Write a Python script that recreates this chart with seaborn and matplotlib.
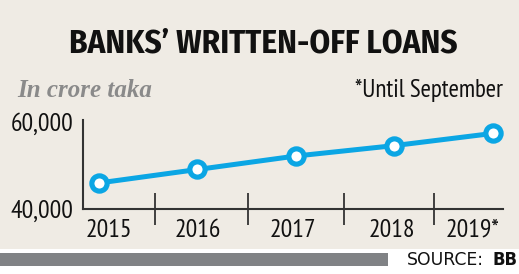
import matplotlib
matplotlib.use("Agg")
import matplotlib.pyplot as plt
from matplotlib.patches import Rectangle
from matplotlib.ticker import FixedLocator, FuncFormatter
import numpy as np
import pandas as pd
import seaborn as sns

# ---- data ----
years = ["2015", "2016", "2017", "2018", "2019*"]
loans = [46000, 49100, 52200, 54600, 57400]
y_ticks = [40000, 60000]

title = "BANKS\u2019 WRITTEN-OFF LOANS"
unit_note = "In crore taka"
foot_note = "*Until September"

# ---- style ----
BG = "#efebe4"
LINE = "#0ba6e4"
AXIS = "#333333"
NARROW = "PT Sans Narrow"
TITLE_FONT = "Fira Sans Condensed"

sns.set_theme(style="white")
plt.rcParams["font.family"] = [NARROW, "DejaVu Sans"]

W, H = 519, 274
fig = plt.figure(figsize=(W / 100, H / 100), dpi=100)
fig.patch.set_facecolor("white")

# beige panel and grey footer bar
fig.patches.append(Rectangle((0, 25 / H), 1, 1 - 25 / H, transform=fig.transFigure,
                             facecolor=BG, edgecolor="none", zorder=-10))
fig.patches.append(Rectangle((0, 8 / H), 388 / W, 13 / H, transform=fig.transFigure,
                             facecolor="#808285", edgecolor="none", zorder=-10))

ax = fig.add_axes([83 / W, 65 / H, 420 / W, 89 / H])
ax.set_facecolor("none")

df = pd.DataFrame({"pos": np.arange(len(years)), "value": loans})
sns.lineplot(data=df, x="pos", y="value", ax=ax, color=LINE, linewidth=3.6,
             marker="o", markersize=11, markerfacecolor="white",
             markeredgecolor=LINE, markeredgewidth=3.7, zorder=5, clip_on=False)

ax.set_xlim(-0.163, 4.106)
ax.set_ylim(40000, 60500)

# y axis
ax.set_yticks(y_ticks)
ax.yaxis.set_major_formatter(FuncFormatter(lambda v, p: f"{int(v):,}"))
ax.tick_params(axis="y", length=0, pad=7, labelsize=18.5, colors="#111111")

# x axis: labels between separators
label_pos = [0.10, 1.0, 1.97, 2.98, 3.80]
sep_pos = [0.57, 1.51, 2.49, 3.40]
ax.xaxis.set_major_locator(FixedLocator(label_pos))
ax.set_xticklabels(years)
ax.xaxis.set_minor_locator(FixedLocator(sep_pos))
ax.tick_params(axis="x", which="major", length=0, pad=7, labelsize=18.5, colors="#111111")
ax.tick_params(axis="x", which="minor", bottom=True, direction="inout", length=23,
               width=1.3, color=AXIS)
ax.set_xlabel("")
ax.set_ylabel("")

for s in ["top", "right"]:
    ax.spines[s].set_visible(False)
for s in ["left", "bottom"]:
    ax.spines[s].set_color(AXIS)
    ax.spines[s].set_linewidth(1.5)

# texts
t_title = fig.text(263 / W, 1 - 43.5 / H, title, ha="center", va="center",
                   fontsize=23, fontweight="bold", family=[TITLE_FONT, NARROW, "DejaVu Sans"],
                   color="#111111")
t_unit = fig.text(17 / W, 1 - 97 / H, unit_note, ha="left", va="baseline",
                  fontsize=16.5, fontweight="bold", style="italic",
                  family=["Liberation Serif", "DejaVu Serif"], color="#8a8a8a")
t_foot = fig.text(503 / W, 1 - 97 / H, foot_note, ha="right", va="baseline",
                  fontsize=17, family=[NARROW, "DejaVu Sans"], color="#111111")
t_src = fig.text(407 / W, 1 - 260 / H, "SOURCE:", ha="left", va="center",
                 fontsize=12, family=["DejaVu Sans"], color="#111111")
t_bb = fig.text(518 / W, 1 - 260 / H, "BB", ha="right", va="center",
                fontsize=12, fontweight="bold", family=["DejaVu Sans"], color="#111111")


def fit_width(t, target_px):
    r = fig.canvas.get_renderer()
    w = t.get_window_extent(r).width
    t.set_fontsize(t.get_fontsize() * target_px / w)


fig.canvas.draw()
fit_width(t_title, 388)
fit_width(t_unit, 135)
fit_width(t_foot, 148)
fit_width(t_src, 77)
fit_width(t_bb, 25)

fig.savefig("out.png", dpi=100, facecolor=fig.get_facecolor())
